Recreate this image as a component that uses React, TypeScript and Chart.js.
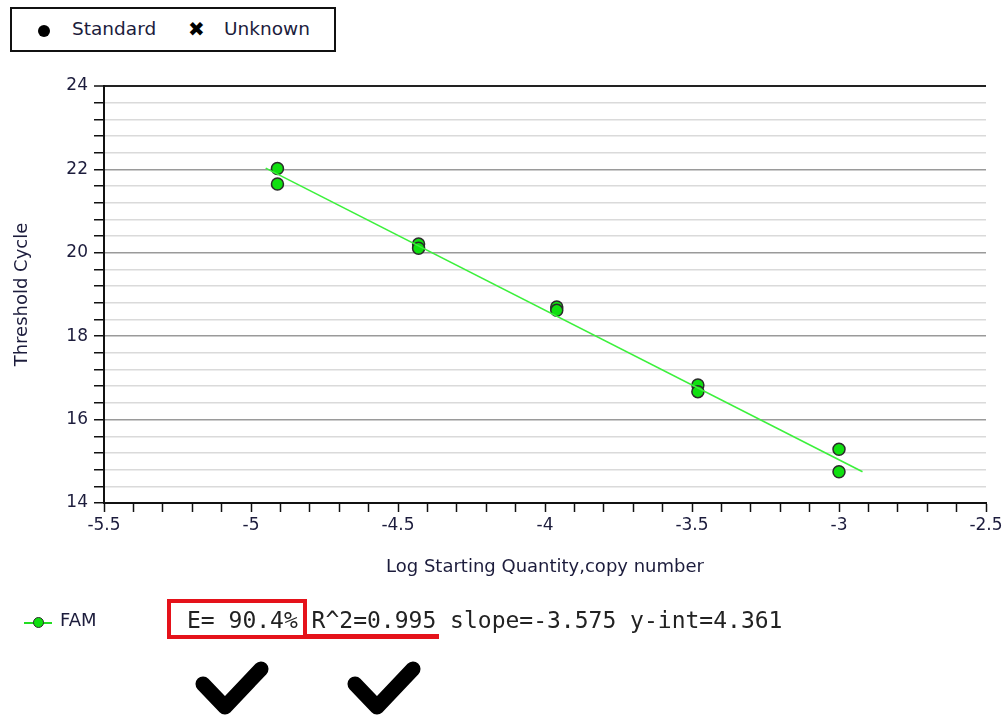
import React, { useEffect, useRef } from "react";
import { Chart, registerables } from "chart.js";

Chart.register(...registerables);

// ---- Data ----
const stdX = [-4.91, -4.91, -4.43, -4.43, -3.96, -3.96, -3.48, -3.48, -3.0, -3.0];
const stdY = [22.02, 21.65, 20.21, 20.11, 18.7, 18.62, 16.83, 16.67, 15.29, 14.75];
const fitX = [-4.95, -2.92];
const fitY = [22.03, 14.75];
const xMajorTicks = [-5.5, -5, -4.5, -4, -3.5, -3, -2.5];
const yMajorTicks = [14, 16, 18, 20, 22, 24];
const seriesName = "FAM";
const statsText = ["E= 90.4%", "R^2=0.995", "slope=-3.575", "y-int=4.361"];
const legendItems = ["Standard", "Unknown"];
const xTitle = "Log Starting Quantity,copy number";
const yTitle = "Threshold Cycle";

const W = 1008;
const H = 715;
const SANS = "'DejaVu Sans', Verdana, sans-serif";
const MONO = "'DejaVu Sans Mono', monospace";
const TXT = "#1c1c3c";

const isMajor = (v: number, list: number[]) => list.some((m) => Math.abs(m - v) < 1e-6);

export default function App() {
  const ref = useRef<HTMLCanvasElement | null>(null);

  useEffect(() => {
    if (!ref.current) return;
    const chart = new Chart(ref.current, {
      type: "scatter",
      data: {
        datasets: [
          {
            type: "line",
            label: "fit",
            data: fitX.map((x, i) => ({ x, y: fitY[i] })),
            borderColor: "#3cf03c",
            borderWidth: 1.6,
            pointRadius: 0,
            fill: false,
          } as any,
          {
            label: seriesName,
            data: stdX.map((x, i) => ({ x, y: stdY[i] })),
            backgroundColor: "#10e010",
            borderColor: "#2b2b2b",
            borderWidth: 1.5,
            pointRadius: 6,
          },
        ],
      },
      options: {
        animation: false,
        responsive: false,
        devicePixelRatio: 1,
        layout: { padding: { left: 0, right: 22, top: 86, bottom: 0 } },
        plugins: { legend: { display: false }, tooltip: { enabled: false } },
        scales: {
          x: {
            type: "linear",
            min: -5.5,
            max: -2.5,
            afterFit: (s: any) => {
              s.height = 212;
            },
            border: { color: "#111", width: 2 },
            grid: {
              drawOnChartArea: false,
              drawTicks: true,
              tickLength: 9,
              tickColor: "#111",
              tickWidth: 1.5,
            },
            ticks: {
              stepSize: 0.1,
              maxTicksLimit: 1000,
              autoSkip: false,
              maxRotation: 0,
              padding: 3,
              color: TXT,
              font: { family: SANS, size: 17 },
              callback: (v: any) => {
                const n = Number(v);
                return isMajor(n, xMajorTicks) ? String(Math.round(n * 10) / 10) : "";
              },
            },
            title: {
              display: true,
              text: xTitle,
              color: TXT,
              font: { family: SANS, size: 18 },
              padding: { top: 0, bottom: 137 },
            },
          },
          y: {
            type: "linear",
            min: 14,
            max: 24,
            afterFit: (s: any) => {
              s.width = 104;
            },
            border: { color: "#111", width: 2 },
            grid: {
              drawTicks: true,
              tickLength: 10,
              tickColor: "#111",
              tickWidth: 1.5,
              color: (ctx: any) => {
                const v = ctx.tick ? ctx.tick.value : 0;
                if (Math.abs(v - 24) < 1e-6) return "#222";
                return isMajor(v, yMajorTicks) ? "#9a9a9a" : "#dadada";
              },
              lineWidth: (ctx: any) => {
                const v = ctx.tick ? ctx.tick.value : 0;
                if (Math.abs(v - 24) < 1e-6) return 2;
                return 1.5;
              },
            },
            ticks: {
              stepSize: 0.4,
              maxTicksLimit: 1000,
              autoSkip: false,
              padding: 6,
              color: TXT,
              font: { family: SANS, size: 17 },
              callback: (v: any) => {
                const n = Number(v);
                return isMajor(n, yMajorTicks) ? String(Math.round(n)) : "";
              },
            },
            title: {
              display: true,
              text: yTitle,
              color: TXT,
              font: { family: SANS, size: 18 },
              padding: { top: 12, bottom: 0 },
            },
          },
        },
      },
    });
    return () => chart.destroy();
  }, []);

  return (
    <div style={{ position: "absolute", left: 0, top: 0, width: W, height: H, background: "#fff", overflow: "hidden" }}>
      <canvas ref={ref} width={W} height={H} style={{ position: "absolute", left: 0, top: 0, width: W, height: H }} />
      {/* top legend box */}
      <div
        style={{
          position: "absolute",
          left: 10,
          top: 7,
          width: 322,
          height: 41,
          border: "2px solid #111",
          background: "#fff",
          fontFamily: SANS,
          fontSize: 18.5,
          color: TXT,
        }}
      >
        <div style={{ position: "absolute", left: 26, top: 16, width: 12, height: 12, borderRadius: 6, background: "#000" }} />
        <div style={{ position: "absolute", left: 60, top: 8, lineHeight: "24px" }}>{legendItems[0]}</div>
        <div style={{ position: "absolute", left: 176, top: 8, lineHeight: "24px", color: "#000", fontSize: 20 }}>✖</div>
        <div style={{ position: "absolute", left: 212, top: 8, lineHeight: "24px" }}>{legendItems[1]}</div>
      </div>
      {/* series legend */}
      <div style={{ position: "absolute", left: 24, top: 622, width: 28, height: 2, background: "#22dd22" }} />
      <div
        style={{
          position: "absolute",
          left: 33,
          top: 617,
          width: 9,
          height: 9,
          borderRadius: 6,
          background: "#10e010",
          border: "1.5px solid #2b2b2b",
        }}
      />
      <div style={{ position: "absolute", left: 60, top: 607, fontFamily: SANS, fontSize: 18, color: TXT, lineHeight: "26px" }}>
        {seriesName}
      </div>
      {/* stats text */}
      <div
        style={{
          position: "absolute",
          left: 187,
          top: 605,
          fontFamily: MONO,
          fontSize: 23,
          lineHeight: "30px",
          color: "#222",
          whiteSpace: "pre",
        }}
      >
        {statsText.join(" ")}
      </div>
      {/* red annotations */}
      <div style={{ position: "absolute", left: 167, top: 599, width: 132, height: 32, border: "4px solid #e5121a" }} />
      <div style={{ position: "absolute", left: 303, top: 634, width: 136, height: 5, background: "#e5121a" }} />
      <svg width={W} height={H} style={{ position: "absolute", left: 0, top: 0, pointerEvents: "none" }}>
        <polyline points="203,684 225,707 261,669" fill="none" stroke="#000" strokeWidth={15} strokeLinecap="round" strokeLinejoin="round" />
        <polyline points="355,684 377,707 413,669" fill="none" stroke="#000" strokeWidth={15} strokeLinecap="round" strokeLinejoin="round" />
      </svg>
    </div>
  );
}
